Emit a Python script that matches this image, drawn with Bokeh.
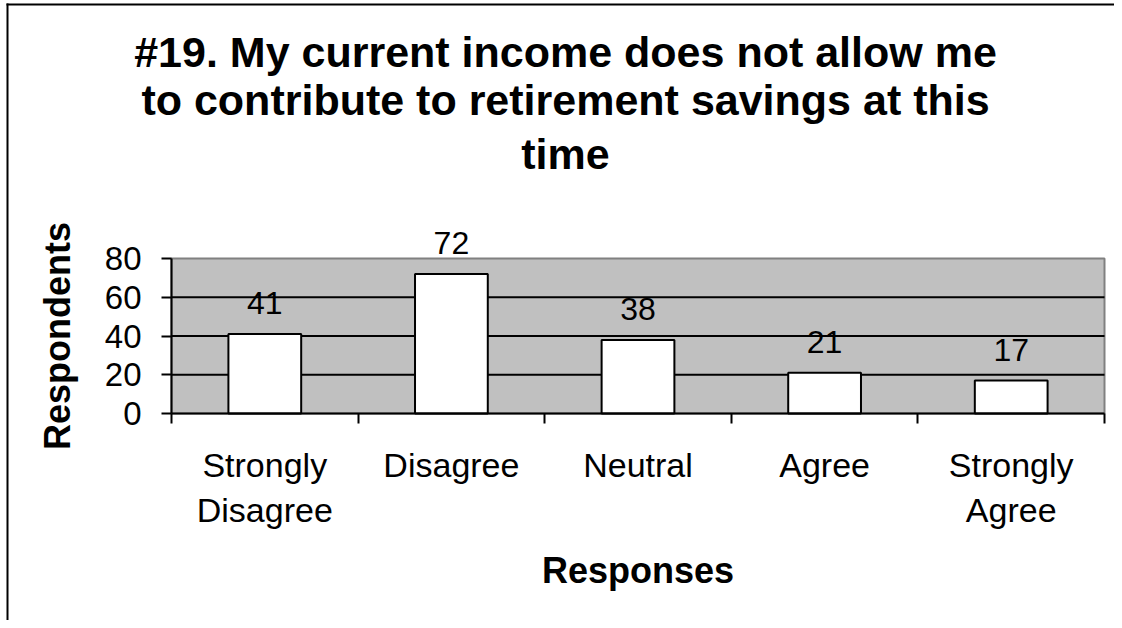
from bokeh.plotting import figure
from bokeh.models import (Range1d, FixedTicker, ColumnDataSource, LabelSet, Label, BoxAnnotation)
from bokeh.core.properties import value
from bokeh.embed import file_html
from bokeh.resources import INLINE

categories = ["Strongly\nDisagree", "Disagree", "Neutral", "Agree", "Strongly\nAgree"]
counts = [41, 72, 38, 21, 17]
y_ticks = [0, 20, 40, 60, 80]
grid_values = [20, 40, 60]
y_max = 80
title_lines = ["#19. My current income does not allow me",
               "to contribute to retirement savings at this",
               "time"]
x_title = "Responses"
y_title = "Respondents"

FONT = "Liberation Sans"
W, H = 1114, 620
# plot-area placement on the canvas (pixels)
PL, PR, PT, PB = 171, 1104, 258, 413
n = len(categories)
sx = (PR - PL) / n          # px per category
sy = (PB - PT) / y_max      # px per unit

centers = [i + 0.5 for i in range(n)]
src = ColumnDataSource(dict(x=centers, top=counts, lab=[str(c) for c in counts]))
grid_src = ColumnDataSource(dict(x0=[0] * len(grid_values), x1=[n] * len(grid_values),
                                 y=grid_values))

# the frame covers the whole canvas; axes are placed at fixed locations
p = figure(width=W, height=H, output_backend="svg", toolbar_location=None,
           x_range=Range1d(-PL / sx, (W - PL) / sx),
           y_range=Range1d(-(H - PB) / sy, y_max + PT / sy),
           min_border=0, title=None)
p.background_fill_color = "white"
p.border_fill_color = "white"
p.outline_line_color = None
p.xgrid.grid_line_color = None
p.ygrid.grid_line_color = None

# grey plot area
p.add_layout(BoxAnnotation(left=0, right=n, bottom=0, top=y_max,
                           fill_color="#C0C0C0", fill_alpha=1,
                           line_color="#808080", line_alpha=1, line_width=2,
                           level="image"))

# horizontal gridlines limited to the plot area
p.segment(x0="x0", x1="x1", y0="y", y1="y", source=grid_src,
          line_color="black", line_width=2)

p.vbar(x="x", top="top", width=0.39, bottom=0, source=src,
       fill_color="white", line_color="black", line_width=2)

# y axis
ya = p.yaxis[0]
ya.fixed_location = 0
ya.bounds = (0, y_max)
ya.ticker = FixedTicker(ticks=y_ticks)
ya.axis_line_color = "black"
ya.axis_line_width = 2
ya.major_tick_line_width = 2
ya.major_tick_out = 10
ya.major_tick_in = 0
ya.minor_tick_line_color = None
ya.major_label_text_font = FONT
ya.major_label_text_font_size = "33px"
ya.major_label_text_color = "black"
ya.major_label_standoff = 20
ya.axis_label = y_title
ya.axis_label_text_font = FONT
ya.axis_label_text_font_style = "bold"
ya.axis_label_text_font_size = "36px"
ya.axis_label_text_color = "black"
ya.axis_label_standoff = 24

# x axis: labels at centers, ticks at boundaries (minor ticks)
xa = p.xaxis[0]
xa.fixed_location = 0
xa.bounds = (0, n)
xa.ticker = FixedTicker(ticks=centers, minor_ticks=list(range(n + 1)))
xa.major_label_overrides = {c: lab for c, lab in zip(centers, categories)}
xa.axis_line_color = "black"
xa.axis_line_width = 2
xa.major_tick_line_color = None
xa.major_tick_out = 10
xa.major_tick_in = 0
xa.minor_tick_line_color = "black"
xa.minor_tick_line_width = 2
xa.minor_tick_out = 10
xa.minor_tick_in = 0
xa.major_label_text_font = FONT
xa.major_label_text_font_size = "34px"
xa.major_label_text_color = "black"
xa.major_label_standoff = 22
xa.axis_label = x_title
xa.axis_label_text_font = FONT
xa.axis_label_text_font_style = "bold"
xa.axis_label_text_font_size = "36px"
xa.axis_label_text_color = "black"
xa.axis_label_standoff = 18

labels = LabelSet(x="x", y="top", text="lab", source=src, y_offset=20,
                  text_align="center", text_baseline="alphabetic",
                  text_font=value(FONT), text_font_size=value("32px"), text_color="black")
p.add_layout(labels)

# title lines (screen units, y measured from the bottom)
title_base = [64, 112, 166]
for line, ty in zip(title_lines, title_base):
    p.add_layout(Label(x=565, y=H - ty + 13, x_units="screen", y_units="screen", text=line,
                       text_align="center", text_baseline="alphabetic",
                       text_font=FONT, text_font_style="bold",
                       text_font_size="43px", text_color="black"))

# outer chart-area border (left and top edges visible)
p.add_layout(BoxAnnotation(left=6, right=8, top=H - 3, bottom=0,
                           left_units="screen", right_units="screen",
                           top_units="screen", bottom_units="screen",
                           fill_color="black", fill_alpha=1, line_color=None,
                           level="overlay"))
p.add_layout(BoxAnnotation(left=6, right=W, top=H - 3, bottom=H - 5,
                           left_units="screen", right_units="screen",
                           top_units="screen", bottom_units="screen",
                           fill_color="black", fill_alpha=1, line_color=None,
                           level="overlay"))

open("out.html", "w").write(file_html(p, INLINE))
